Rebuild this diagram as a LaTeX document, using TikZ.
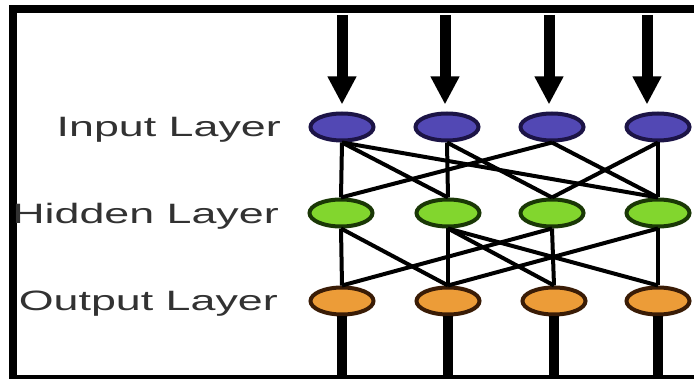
\documentclass[tikz,border=0pt]{standalone}
\usepackage{graphicx}
\usepackage{fontspec}
\newfontfamily\labelfont{Liberation Sans}
\usepackage{tikz}
\usetikzlibrary{arrows.meta, shapes.geometric}

\definecolor{inblue}{RGB}{82,72,180}
\definecolor{inedge}{RGB}{28,20,70}
\definecolor{hidgreen}{RGB}{130,214,46}
\definecolor{hidedge}{RGB}{26,56,6}
\definecolor{outorange}{RGB}{236,156,56}
\definecolor{outedge}{RGB}{58,28,6}
\definecolor{labelgray}{RGB}{50,50,50}

% labels are set wide, as in the drawing
\newcommand{\widetext}[1]{\scalebox{1.6}[1]{#1}}

\begin{document}
\begin{tikzpicture}[
  x=1pt, y=-1pt,
  unit/.style={ellipse, draw, line width=4pt, minimum width=63pt, minimum height=27pt, inner sep=0pt},
  inunit/.style={unit, fill=inblue, draw=inedge},
  hidunit/.style={unit, fill=hidgreen, draw=hidedge},
  outunit/.style={unit, fill=outorange, draw=outedge},
  layer/.style={font=\labelfont\fontsize{28}{30}\selectfont, text=labelgray, anchor=east, inner sep=0pt, text depth=0pt},
  link/.style={line width=4pt},
  feed/.style={line width=11pt, -{Triangle[width=27pt, length=28pt]}, shorten >=7pt},
  lead/.style={line width=10pt}
]
\clip (0,0) rectangle (694,379);
\fill[white] (0,0) rectangle (694,379);

% frame
\draw[line width=8pt] (700,9) -- (12.5,9) -- (12.5,379) -- (700,379);

% units
\node[inunit] (i1) at (342,127) {};
\node[inunit] (i2) at (447,127) {};
\node[inunit] (i3) at (552,127) {};
\node[inunit] (i4) at (658,127) {};
\node[hidunit] (h1) at (341,213) {};
\node[hidunit] (h2) at (448,213) {};
\node[hidunit] (h3) at (552,213) {};
\node[hidunit] (h4) at (658,213) {};
\node[outunit] (o1) at (342,301) {};
\node[outunit] (o2) at (448,301) {};
\node[outunit] (o3) at (554,301) {};
\node[outunit] (o4) at (658,301) {};

% layer names
\node[layer] (inlbl) at (281,127) {\widetext{Input Layer}};
\node[layer] (hidlbl) at (279,213) {\widetext{Hidden Layer}};
\node[layer] (outlbl) at (278,301) {\widetext{Output Layer}};

% incoming signals
\coordinate (a1) at (342,15);
\coordinate (a2) at (445,15);
\coordinate (a3) at (549,15);
\coordinate (a4) at (647,15);
\draw[feed] (a1) -- (a1 |- i1.north);
\draw[feed] (a2) -- (a2 |- i2.north);
\draw[feed] (a3) -- (a3 |- i3.north);
\draw[feed] (a4) -- (a4 |- i4.north);

% input -> hidden
\draw[link] (i1.south) -- (h1.north);
\draw[link] (i1.south) -- (h2.north);
\draw[link] (i1.south) -- (h4.north);
\draw[link] (i2.south) -- (h2.north);
\draw[link] (i2.south) -- (h3.north);
\draw[link] (i3.south) -- (h1.north);
\draw[link] (i3.south) -- (h4.north);
\draw[link] (i4.south) -- (h4.north);
\draw[link] (i4.south) -- (h3.north);

% hidden -> output
\draw[link] (h1.south) -- (o1.north);
\draw[link] (h1.south) -- (o2.north);
\draw[link] (h2.south) -- (o2.north);
\draw[link] (h2.south) -- (o3.north);
\draw[link] (h2.south) -- (o4.north);
\draw[link] (h3.south) -- (o3.north);
\draw[link] (h3.south) -- (o1.north);
\draw[link] (h4.south) -- (o4.north);
\draw[link] (h4.south) -- (o2.north);

% outgoing signals
\coordinate (base) at (0,380);
\draw[lead] (o1.south) -- (o1.south |- base);
\draw[lead] (o2.south) -- (o2.south |- base);
\draw[lead] (o3.south) -- (o3.south |- base);
\draw[lead] (o4.south) -- (o4.south |- base);
\end{tikzpicture}
\end{document}
